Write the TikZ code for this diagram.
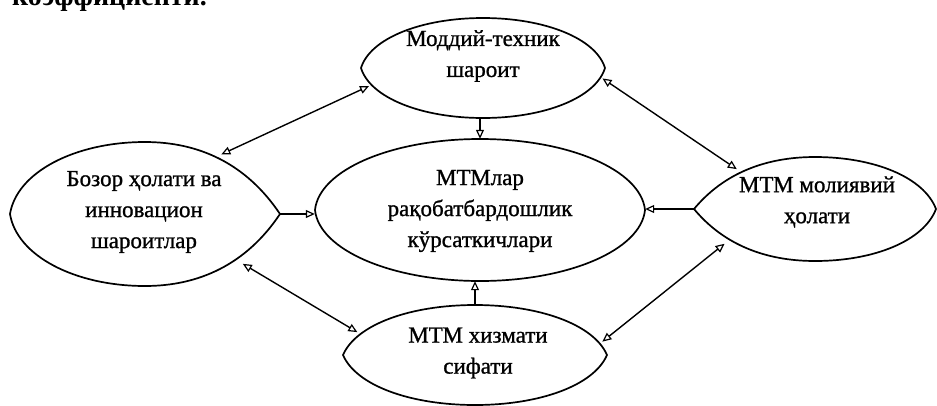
\documentclass[tikz,border=0pt]{standalone}
\usepackage{fontspec}
\setmainfont{Liberation Serif}
\newfontfamily\lblfont{Liberation Serif}[FakeBold=1]
\usetikzlibrary{arrows.meta,shapes.geometric}
% #1 cx, #2 cy, #3 rx, #4 ry, #5 left pointiness, #6 right pointiness
\newcommand{\mylens}[6]{%
  \draw[outline] ({#1-#3},{#2})
    .. controls ({#1-#3+#5*0.25*#3},{#2-0.55*#4-#5*0.15*#4}) and ({#1-(0.55-0.15*#5)*#3},{#2-#4}) .. ({#1},{#2-#4})
    .. controls ({#1+(0.55-0.15*#6)*#3},{#2-#4}) and ({#1+#3-#6*0.25*#3},{#2-0.55*#4-#6*0.15*#4}) .. ({#1+#3},{#2})
    .. controls ({#1+#3-#6*0.25*#3},{#2+0.55*#4+#6*0.15*#4}) and ({#1+(0.55-0.15*#6)*#3},{#2+#4}) .. ({#1},{#2+#4})
    .. controls ({#1-(0.55-0.15*#5)*#3},{#2+#4}) and ({#1-#3+#5*0.25*#3},{#2+0.55*#4+#5*0.15*#4}) .. cycle;}
\tikzset{
  outline/.style={line width=1.7pt},
  holder/.style={ellipse,draw=none,inner sep=0pt},
  label/.style={align=center,font=\lblfont\fontsize{23}{31}\selectfont},
  conn/.style={line width=1.4pt,-{Triangle[open,length=9pt,width=8pt,line width=1.2pt]}},
  bconn/.style={line width=1.4pt,{Triangle[open,length=9pt,width=8pt,line width=1.2pt]}-{Triangle[open,length=9pt,width=8pt,line width=1.2pt]}}
}
\begin{document}
\begin{tikzpicture}[x=1pt,y=-1pt]
\useasboundingbox (0,0) rectangle (937,405);
\begin{scope}
\clip (0,0) rectangle (937,405);
\node[anchor=base west,inner sep=0pt,font=\fontsize{28}{30}\selectfont\bfseries] (head) at (12,5) {коэффициенти.};
% outlines
\mylens{483}{68}{122}{50}{0.3}{0.3}
\mylens{480}{210}{165}{71}{0.1}{0.1}
\mylens{145}{214}{135}{72}{0.2}{1.0}
\mylens{815}{209}{121}{52}{1.0}{0.4}
\mylens{475}{355}{132}{50}{0.4}{0.4}
\end{scope}
% named holders
\node[holder,minimum width=244pt,minimum height=100pt] (T) at (483,68) {};
\node[holder,minimum width=330pt,minimum height=142pt] (C) at (480,210) {};
\node[holder,minimum width=270pt,minimum height=144pt] (L) at (145,214) {};
\node[holder,minimum width=242pt,minimum height=104pt] (R) at (815,209) {};
\node[holder,minimum width=264pt,minimum height=100pt] (B) at (475,355) {};
% texts
\node[label] (Tt) at (483,56) {Моддий-техник\\шароит};
\node[label] (Ct) at (480,211) {МТМлар\\рақобатбардошлик\\кўрсаткичлари};
\node[label] (Lt) at (144,212) {Бозор ҳолати ва\\инновацион\\шароитлар};
\node[label] (Rt) at (817,202) {МТМ молиявий\\ҳолати};
\node[label] (Bt) at (478,353) {МТМ хизмати\\сифати};
% connectors
\draw[conn] (T.south -| C.north) -- (C.north);
\draw[conn] (L.east) -- (L.east -| C.west);
\draw[conn] (R.west) -- (R.west -| C.east);
\draw[conn] (B.north) -- (B.north |- C.south);
\draw[bconn] (L.38.9) -- (T.189.5);
\draw[bconn] (T.355.3) -- (R.153.4);
\draw[bconn] (L.333.4) -- (B.169.2);
\draw[bconn] (R.201.2) -- (B.6.6);
\end{tikzpicture}
\end{document}
